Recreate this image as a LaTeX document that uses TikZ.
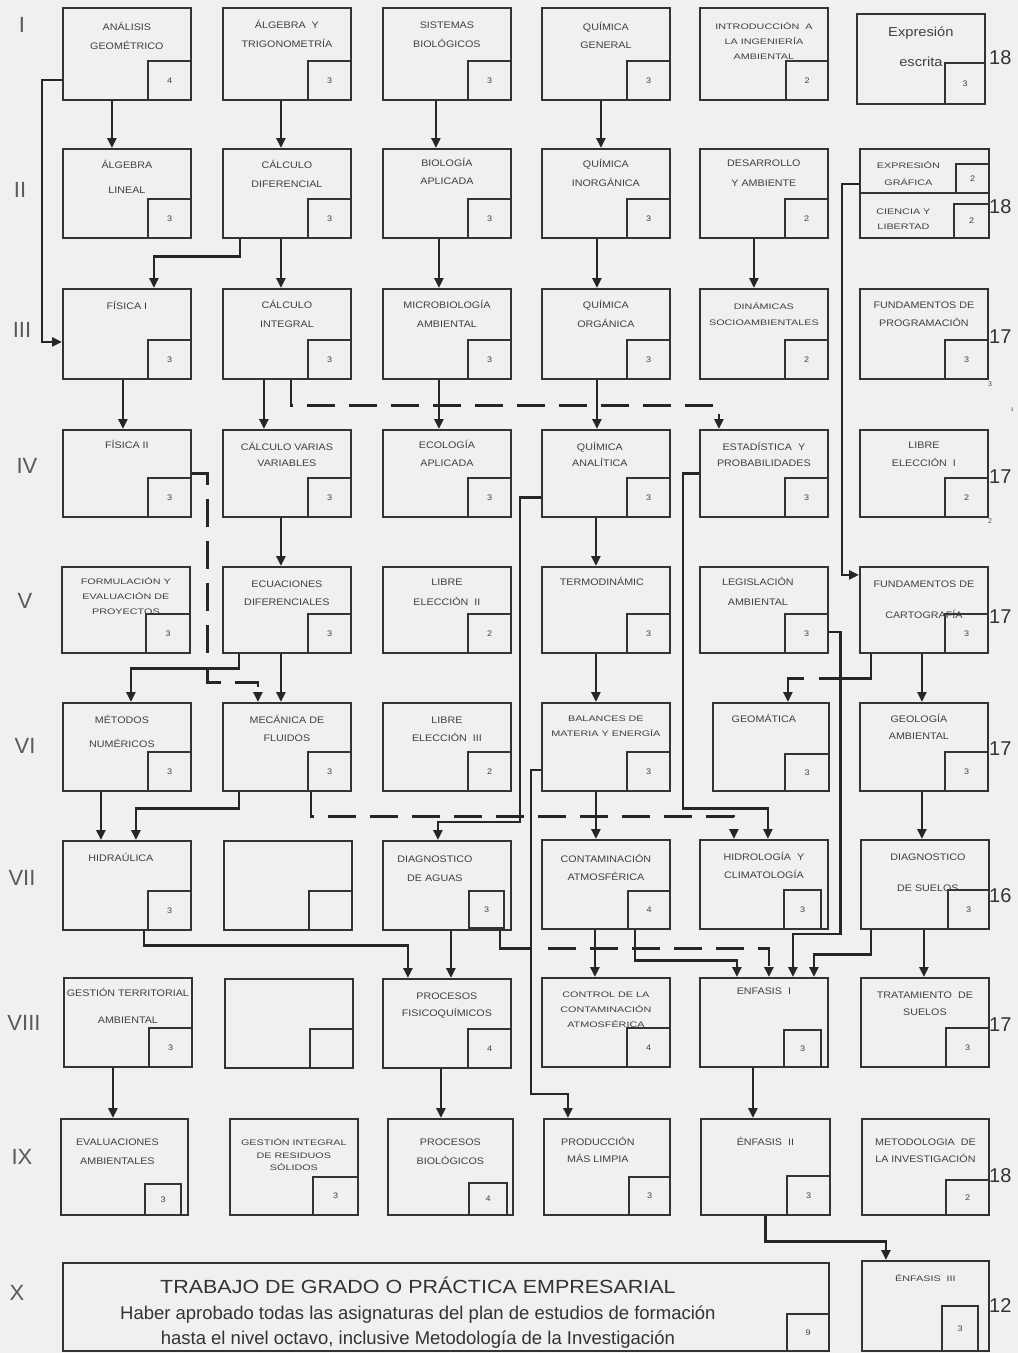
\documentclass[tikz,border=0pt]{standalone}
\usepackage{fontspec}
\setmainfont{Liberation Sans}
\newfontfamily\boxfont[FakeStretch=1.13]{Liberation Sans}
\newfontfamily\widefont[FakeStretch=1.35]{Liberation Sans}
\usetikzlibrary{arrows.meta}
\tikzstyle{course} = [rectangle, draw=black!80, line width=1.8pt, inner sep=0pt,
    minimum width=128pt, minimum height=89pt, anchor=north west]
\tikzstyle{credit} = [rectangle, draw=black!80, line width=1.5pt, inner sep=0pt,
    minimum width=43pt, minimum height=39pt, anchor=south east,
    font=\boxfont\fontsize{8}{8}\selectfont, text=black!75]
\tikzstyle{ctext} = [anchor=north, inner sep=0pt, align=center, text=black!75,
    font=\boxfont\fontsize{9.5}{19}\selectfont]
\tikzstyle{tight} = [font=\widefont\fontsize{8}{15}\selectfont]
\tikzstyle{conn} = [line width=2.8pt, draw=black!85]
\tikzstyle{arrow} = [conn, -{Triangle[length=10pt,width=9pt]}]
\tikzstyle{dasharrow} = [arrow, dash pattern=on 28pt off 14pt]
\tikzstyle{rowlabel} = [font=\fontsize{22}{22}\selectfont, text=black!65, inner sep=0pt]
\tikzstyle{total} = [font=\fontsize{20}{20}\selectfont, text=black!80, inner sep=0pt, anchor=west]
\tikzstyle{note} = [font=\fontsize{7}{7}\selectfont, text=black!70, inner sep=0pt]
% one course: box, credit box, title
\newcommand{\course}[7][]{%
  \node[course,#1] (#2) at (#3) {};
  \node[credit,#6] (#2-cr) at (#2.south east) {#7};
  \node[ctext,#4] (#2-tx) at ([yshift=-11pt]#2.north) {\rule{0pt}{9.5pt}#5};}

\begin{document}
\begin{tikzpicture}[x=1pt, y=-1pt]
  \fill[black!6] (0,0) rectangle (1018,1353);
  \useasboundingbox (0,0) rectangle (1018,1353);

  % semester I
  \course[minimum height=92pt]{anageo}{62,7}{yshift=-3pt}{ANÁLISIS\\GEOMÉTRICO}{}{4}
  \course[minimum height=92pt]{algtrig}{222,7}{yshift=-1pt}{ÁLGEBRA\ \ Y\\TRIGONOMETRÍA}{}{3}
  \course[minimum height=92pt]{sisbio}{382,7}{yshift=-1pt}{SISTEMAS\\BIOLÓGICOS}{}{3}
  \course[minimum height=92pt]{quigen}{541,7}{yshift=-3pt}{QUÍMICA\\[-1pt]GENERAL}{}{3}
  \course[minimum height=92pt]{intro}{699,7}{tight, yshift=-2pt}{INTRODUCCIÓN\ \ A\\LA INGENIERÍA\\AMBIENTAL}{minimum width=42pt}{2}
  \course[minimum height=90pt]{expesc}{856,13}{font=\boxfont\fontsize{13}{30}\selectfont, yshift=-3pt}{Expresión\\escrita}{minimum width=40pt, minimum height=41pt}{3}

  % semester II
  \course{alglin}{62,148}{}{ÁLGEBRA\\[6pt]LINEAL}{}{3}
  \course{calcdif}{222,148}{}{CÁLCULO\\DIFERENCIAL}{}{3}
  \course{bioapl}{382,148}{yshift=2pt}{BIOLOGÍA\\[-1pt]APLICADA}{}{3}
  \course{quiinorg}{541,148}{yshift=1pt}{QUÍMICA\\INORGÁNICA}{}{3}
  \course{desamb}{699,148}{yshift=2pt}{DESARROLLO\\[1pt]Y AMBIENTE}{}{2}
  \course[minimum width=129pt, minimum height=44pt]{expgra}{859,148}{tight, xshift=-16pt}{EXPRESIÓN\\[2pt]GRÁFICA}{minimum width=33pt, minimum height=29pt}{2}
  \course[minimum width=129pt, minimum height=45pt]{cienlib}{859,192}{tight, xshift=-21pt, yshift=-2pt}{CIENCIA Y\\LIBERTAD}{minimum width=35pt, minimum height=34pt}{2}

  % semester III
  \course[minimum height=90pt]{fis1}{62,288}{yshift=-1pt}{FÍSICA I}{}{3}
  \course[minimum height=90pt]{calcint}{222,288}{}{CÁLCULO\\INTEGRAL}{}{3}
  \course[minimum height=90pt]{microbio}{382,288}{}{MICROBIOLOGÍA\\AMBIENTAL}{}{3}
  \course[minimum height=90pt]{quiorg}{541,288}{}{QUÍMICA\\ORGÁNICA}{}{3}
  \course[minimum height=90pt]{dinam}{699,288}{tight, yshift=-1pt}{DINÁMICAS\\[1pt]SOCIOAMBIENTALES}{}{2}
  \course[minimum height=90pt]{fundprog}{859,288}{}{FUNDAMENTOS DE\\[-1pt]PROGRAMACIÓN}{}{3}

  % semester IV
  \course[minimum height=87pt]{fis2}{62,429}{yshift=1pt}{FÍSICA II}{}{3}
  \course[minimum height=87pt]{calcvar}{222,429}{yshift=-1pt}{CÁLCULO VARIAS\\[-3pt]VARIABLES}{}{3}
  \course[minimum height=87pt]{ecoapl}{382,429}{yshift=1pt}{ECOLOGÍA\\[-1pt]APLICADA}{}{3}
  \course[minimum height=87pt]{quianal}{541,429}{xshift=-6pt, yshift=-1pt}{QUÍMICA\\[-3pt]ANALÍTICA}{}{3}
  \course[minimum height=87pt]{estad}{699,429}{yshift=-1pt}{ESTADÍSTICA\ \ Y\\[-3pt]PROBABILIDADES}{}{3}
  \course[minimum height=87pt]{libre1}{859,429}{yshift=1pt}{LIBRE\\[-1pt]ELECCIÓN\ \ I}{}{2}

  % semester V
  \course[minimum height=86pt]{formul}{61,566}{tight, yshift=2pt}{FORMULACIÓN Y\\EVALUACIÓN DE\\PROYECTOS}{minimum width=44pt}{3}
  \course[minimum height=86pt]{ecdif}{222,566}{yshift=-1pt}{ECUACIONES\\[-1pt]DIFERENCIALES}{}{3}
  \course[minimum height=86pt]{libre2}{382,566}{yshift=1pt}{LIBRE\\[1pt]ELECCIÓN\ \ II}{}{2}
  \course[minimum height=86pt]{termo}{541,566}{xshift=-4pt, yshift=1pt}{TERMODINÁMIC}{}{3}
  \course[minimum height=86pt]{legis}{699,566}{xshift=-6pt, yshift=1pt}{LEGISLACIÓN\\[1pt]AMBIENTAL}{}{3}
  \course[minimum height=86pt]{fundcart}{859,566}{yshift=-1pt}{FUNDAMENTOS DE\\[12pt]CARTOGRAFÍA}{}{3}

  % semester VI
  \course[minimum height=88pt]{metnum}{62,702}{xshift=-5pt, yshift=-1pt}{MÉTODOS\\[5pt]NUMÉRICOS}{}{3}
  \course[minimum height=88pt]{mecflu}{222,702}{yshift=-1pt}{MECÁNICA DE\\[-1pt]FLUIDOS}{}{3}
  \course[minimum height=88pt]{libre3}{382,702}{yshift=-1pt}{LIBRE\\[-1pt]ELECCIÓN\ \ III}{}{2}
  \course[minimum height=88pt]{balances}{541,702}{tight, yshift=1pt}{BALANCES DE\\MATERIA Y ENERGÍA}{}{3}
  \course[minimum width=116pt, minimum height=88pt]{geomat}{712,702}{xshift=-7pt}{GEOMÁTICA}{minimum width=44pt, minimum height=37pt}{3}
  \course[minimum height=88pt]{geoamb}{859,702}{xshift=-5pt}{GEOLOGÍA\\[-2pt]AMBIENTAL}{}{3}

  % semester VII
  \course{hidra}{62,840}{xshift=-6pt, yshift=-1pt}{HIDRAÚLICA}{}{3}
  \course{vacio1}{223,840}{}{}{}{}
  \course{diagag}{382,840}{xshift=-12pt, yshift=-2pt}{DIAGNOSTICO\\DE AGUAS}{minimum width=35pt, minimum height=37pt, xshift=-7pt, yshift=2pt}{3}
  \course{contatm}{541,839}{yshift=-3pt}{CONTAMINACIÓN\\[-1pt]ATMOSFÉRICA}{minimum width=42pt, minimum height=38pt}{4}
  \course{hidrol}{699,839}{yshift=-1pt}{HIDROLOGÍA\ \ Y\\[-1pt]CLIMATOLOGÍA}{minimum width=37pt, minimum height=39pt, xshift=-7pt}{3}
  \course{diagsue}{860,839}{xshift=3pt, yshift=-1pt}{DIAGNOSTICO\\[12pt]DE SUELOS}{minimum width=41pt}{3}

  % semester VIII
  \course{gestter}{63,977}{yshift=1pt}{GESTIÓN TERRITORIAL\\[8pt]AMBIENTAL}{}{3}
  \course{vacio2}{224,978}{}{}{}{}
  \course{procfq}{382,978}{yshift=-1pt}{PROCESOS\\[-2pt]FISICOQUÍMICOS}{}{4}
  \course{control}{541,977}{tight}{CONTROL DE LA\\CONTAMINACIÓN\\ATMOSFÉRICA}{}{4}
  \course{enf1}{699,977}{yshift=3pt}{ENFASIS\ \ I}{minimum width=37pt, minimum height=37pt, xshift=-7pt}{3}
  \course{tratsue}{860,977}{yshift=-1pt}{TRATAMIENTO\ \ DE\\[-2pt]SUELOS}{}{3}

  % semester IX
  \course[minimum width=127pt, minimum height=96pt]{evalamb}{60,1118}{xshift=-7pt, yshift=-7pt}{EVALUACIONES\\AMBIENTALES}{minimum width=36pt, minimum height=31pt, xshift=-7pt}{3}
  \course[minimum height=96pt]{gestres}{229,1118}{tight, yshift=-7pt}{GESTIÓN INTEGRAL\\[-2.5pt]DE RESIDUOS\\[-2.5pt]SÓLIDOS}{minimum width=45pt, minimum height=38pt}{3}
  \course[minimum width=125pt, minimum height=96pt]{procbio}{387,1118}{yshift=-7pt}{PROCESOS\\BIOLÓGICOS}{minimum width=38pt, minimum height=32pt, xshift=-6pt}{4}
  \course[minimum width=126pt, minimum height=96pt]{prodml}{543,1118}{xshift=-9pt, yshift=-7pt}{PRODUCCIÓN\\[-2pt]MÁS LIMPIA}{minimum width=41pt, minimum height=38pt}{3}
  \course[minimum width=129pt, minimum height=96pt]{enf2}{700,1118}{yshift=-7pt}{ÉNFASIS\ \ II}{}{3}
  \course[minimum width=127pt, minimum height=96pt]{metinv}{861,1118}{yshift=-7pt}{METODOLOGIA\ \ DE\\[-2pt]LA INVESTIGACIÓN}{minimum height=35pt}{2}

  % semester X
  \course[minimum width=766pt, minimum height=88pt]{trabajo}{62,1262}{}{}{minimum width=42pt, minimum height=37pt}{9}
  \course[minimum width=127pt, minimum height=90pt]{enf3}{861,1260}{tight, yshift=-1pt}{ÉNFASIS\ \ III}{minimum width=36pt, minimum height=45pt, xshift=-11pt}{3}
  \node[font=\boxfont\fontsize{19}{19}\selectfont, text=black!80, anchor=base, inner sep=0pt]
    (trabajo-t) at ([xshift=-28pt, yshift=-31.5pt]trabajo.north) {TRABAJO DE GRADO O PRÁCTICA EMPRESARIAL};
  \node[font=\fontsize{18.5}{18.5}\selectfont, text=black!80, anchor=base, inner sep=0pt]
    (trabajo-a) at ([xshift=-28pt, yshift=-57pt]trabajo.north) {Haber aprobado todas las asignaturas del plan de estudios de formación};
  \node[font=\fontsize{18.5}{18.5}\selectfont, text=black!80, anchor=base, inner sep=0pt]
    (trabajo-b) at ([xshift=-28pt, yshift=-82pt]trabajo.north) {hasta el nivel octavo, inclusive Metodología de la Investigación};

  % semester labels and credit totals
  \foreach \lab/\xpos/\ypos in {I/22/25, II/20/190, III/22/330, IV/27/466, V/25/601,
      VI/25/746, VII/22/878, VIII/24/1023, IX/22/1157, X/17/1293}
    \node[rowlabel] (row-\lab) at (\xpos,\ypos) {\lab};
  \foreach \tot/\ypos [count=\i] in {18/58, 18/207, 17/337, 17/477, 17/617, 17/749,
      16/896, 17/1025, 18/1176, 12/1306}
    \node[total] (tot-\i) at (989,\ypos) {\tot};
  \node[note] (note-a) at (990,384) {3};
  \node[note, font=\fontsize{5}{5}\selectfont] (note-b) at (1012,410) {3};
  \node[note] (note-c) at (990,521) {2};

  % prerequisites
  \draw[arrow] ([xshift=-15pt]anageo.south) -- ([xshift=-15pt]alglin.north);
  \draw[arrow] ([xshift=-6pt]algtrig.south) -- ([xshift=-6pt]calcdif.north);
  \draw[arrow] ([xshift=-11pt]sisbio.south) -- ([xshift=-11pt]bioapl.north);
  \draw[arrow] ([xshift=-5pt]quigen.south) -- ([xshift=-5pt]quiinorg.north);
  \draw[arrow] ([yshift=-26pt]anageo.west) -- ++(-20,0) |- ([yshift=-8pt]fis1.west);
  \draw[arrow] ([xshift=-47pt]calcdif.south) -- ++(0,18) -| ([xshift=27pt]fis1.north);
  \draw[arrow] ([xshift=-6pt]calcdif.south) -- ([xshift=-6pt]calcint.north);
  \draw[arrow] ([xshift=-8pt]bioapl.south) -- ([xshift=-8pt]microbio.north);
  \draw[arrow] ([xshift=-9pt]quiinorg.south) -- ([xshift=-9pt]quiorg.north);
  \draw[arrow] ([xshift=-10pt]desamb.south) -- ([xshift=-10pt]dinam.north);
  \draw[arrow] ([yshift=-13pt]expgra.west) -- ++(-17,0) |- ([yshift=35pt]fundcart.west);
  \draw[arrow] ([xshift=-4pt]fis1.south) -- ([xshift=-4pt]fis2.north);
  \draw[arrow] ([xshift=-23pt]calcint.south) -- ([xshift=-23pt]calcvar.north);
  \draw[dasharrow] ([xshift=4pt]calcint.south) -- ++(0,26) -| ([xshift=-45pt]estad.north);
  \draw[arrow] ([xshift=-8pt]microbio.south) -- ([xshift=-8pt]ecoapl.north);
  \draw[arrow] ([xshift=-9pt]quiorg.south) -- ([xshift=-9pt]quianal.north);
  \draw[dasharrow] (fis2.east) -- ++(16,0) -- ++(0,209) -| ([xshift=-29pt]mecflu.north);
  \draw[arrow] ([xshift=-6pt]calcvar.south) -- ([xshift=-6pt]ecdif.north);
  \draw[arrow] ([xshift=-10pt]quianal.south) -- ([xshift=-10pt]termo.north);
  \draw[arrow] ([xshift=-48pt]ecdif.south) -- ++(0,15) -| ([xshift=4pt]metnum.north);
  \draw[arrow] ([xshift=-6pt]ecdif.south) -- ([xshift=-6pt]mecflu.north);
  \draw[arrow] ([xshift=-10pt]termo.south) -- ([xshift=-10pt]balances.north);
  \draw[arrow, dash pattern=on 77pt off 15pt on 200pt] ([xshift=-53pt]fundcart.south) -- ++(0,25) -| ([xshift=17pt]geomat.north);
  \draw[arrow] ([xshift=-2pt]fundcart.south) -- ([xshift=-2pt]geoamb.north);
  \draw[arrow] ([xshift=-26pt]metnum.south) -- ([xshift=-26pt]hidra.north);
  \draw[arrow] ([xshift=-48pt]mecflu.south) -- ++(0,17) -| ([xshift=9pt]hidra.north);
  \draw[dasharrow] ([xshift=24pt]mecflu.south) -- ++(0,25) -| ([xshift=-30pt]hidrol.north);
  \draw[arrow] ([yshift=-24pt]quianal.west) -- ++(-21,0) |- ([xshift=-9pt,yshift=18pt]diagag.north) -- ([xshift=-9pt]diagag.north);
  \draw[arrow] ([yshift=-23pt]balances.west) -- ++(-10,0) -- ++(0,324) -| ([xshift=-39pt]prodml.north);
  \draw[arrow] (estad.west) -- ++(-16,0) -- ++(0,335) -| ([xshift=4pt]hidrol.north);
  \draw[arrow] ([xshift=-10pt]balances.south) -- ([xshift=-10pt]contatm.north);
  \draw[arrow] ([xshift=-2pt]geoamb.south) -- ([xshift=-3pt]diagsue.north);
  \draw[arrow] ([xshift=17pt]hidra.south) -- ++(0,15) -| ([xshift=-39pt]procfq.north);
  \draw[arrow] ([xshift=4pt]diagag.south) -- ([xshift=4pt]procfq.north);
  \draw[conn] ([xshift=53pt]diagag.south) -- ++(0,18) -- ++(32,0) coordinate (aguas-j);
  \draw[dasharrow] (aguas-j) ++(16,0) -| ([xshift=5pt]enf1.north);
  \draw[arrow] ([xshift=-11pt]contatm.south) -- ([xshift=-11pt]control.north);
  \draw[arrow] ([xshift=29pt]contatm.south) -- ++(0,31) -| ([xshift=-27pt]enf1.north);
  \draw[arrow] ([yshift=-22pt]legis.east) -- ++(12,0) -- ++(0,302) -| ([xshift=29pt]enf1.north);
  \draw[arrow] ([xshift=-54pt]diagsue.south) -- ++(0,25) -| ([xshift=50pt]enf1.north);
  \draw[arrow] ([xshift=-1pt]diagsue.south) -- ([xshift=-1pt]tratsue.north);
  \draw[arrow] ([xshift=-15pt]gestter.south) -- ([xshift=-11.5pt]evalamb.north);
  \draw[arrow] ([xshift=-6pt]procfq.south) -- ([xshift=-9.5pt]procbio.north);
  \draw[arrow] ([xshift=-11pt]enf1.south) -- ([xshift=-12.5pt]enf2.north);
  \draw[arrow] (enf2.south) -- ++(0,26) -| ([xshift=-39.5pt]enf3.north);
\end{tikzpicture}
\end{document}
